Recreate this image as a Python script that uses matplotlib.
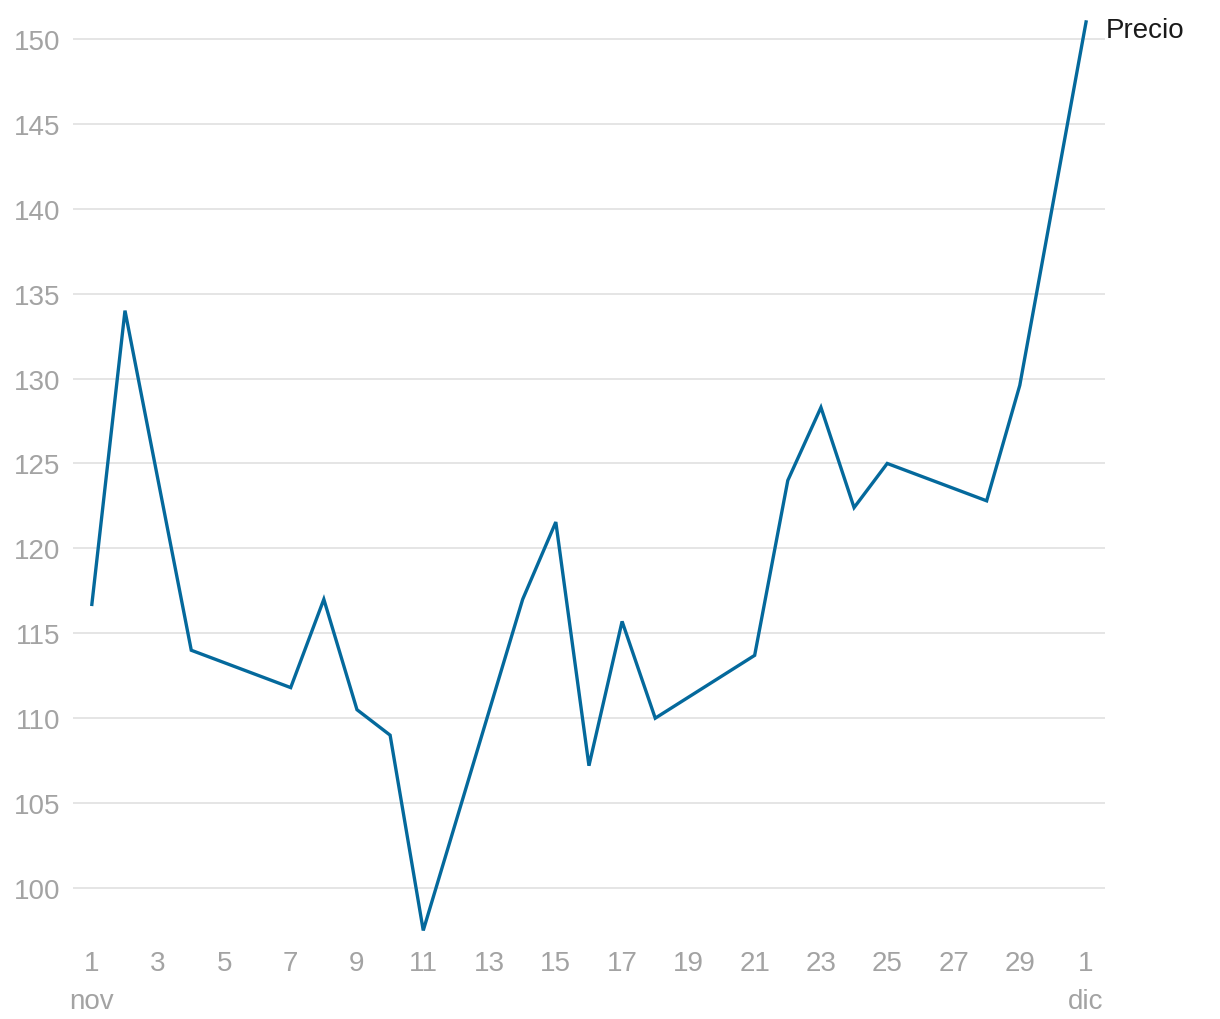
import matplotlib
matplotlib.use('Agg')
import matplotlib.pyplot as plt
import matplotlib.dates as mdates
import pandas as pd

# price series, only the days that have a value
dates = ["2023-11-01", "2023-11-02", "2023-11-04", "2023-11-07", "2023-11-08",
         "2023-11-09", "2023-11-10", "2023-11-11", "2023-11-14", "2023-11-15",
         "2023-11-16", "2023-11-17", "2023-11-18", "2023-11-21", "2023-11-22",
         "2023-11-23", "2023-11-24", "2023-11-25", "2023-11-28", "2023-11-29",
         "2023-12-01"]
precio = [116.7, 134.0, 114.0, 111.8, 117.0,
          110.5, 109.0, 97.5, 117.0, 121.55,
          107.2, 115.7, 110.0, 113.7, 124.0,
          128.3, 122.4, 125.0, 122.8, 129.6,
          151.0]
serie = "Precio"

tick_dates = pd.date_range("2023-11-01", "2023-12-01", freq="2D")
tick_labels = [str(d.day) for d in tick_dates]
tick_labels[0] = "1\nnov"
tick_labels[-1] = "1\ndic"
y_ticks = [100, 105, 110, 115, 120, 125, 130, 135, 140, 145, 150]

plt.rcParams['font.family'] = ['Liberation Sans', 'DejaVu Sans']

fig = plt.figure(figsize=(12.2, 10.2), dpi=100)
ax = fig.add_axes([0.0598, 0.0735, 0.8459, 0.9115])

x = pd.to_datetime(dates)
ax.plot(x, precio, color='#04699c', lw=2.4, solid_joinstyle='miter')

xn = mdates.date2num(pd.to_datetime(["2023-11-01", "2023-12-01"]))
ax.set_xlim(xn[0] - 0.57, xn[1] + 0.57)
ax.set_ylim(96.7, 151.45)

ax.set_xticks(tick_dates)
ax.set_xticklabels(tick_labels, linespacing=1.6)
ax.set_yticks(y_ticks)
ax.tick_params(length=0, labelsize=20, labelcolor='#a3a3a3')
ax.tick_params(axis='y', pad=9)
ax.tick_params(axis='x', pad=4)
for lab in ax.get_xticklabels():
    lab.set_verticalalignment('top')

ax.grid(axis='y', color='#e3e3e3', lw=1.3)
ax.set_axisbelow(True)
for s in ax.spines.values():
    s.set_visible(False)

ax.annotate(serie, xy=(x[-1], precio[-1]), xytext=(14.5, -6),
            textcoords='offset points', fontsize=20, color='#1a1a1a',
            va='center', ha='left', annotation_clip=False)

fig.savefig("out.png")
